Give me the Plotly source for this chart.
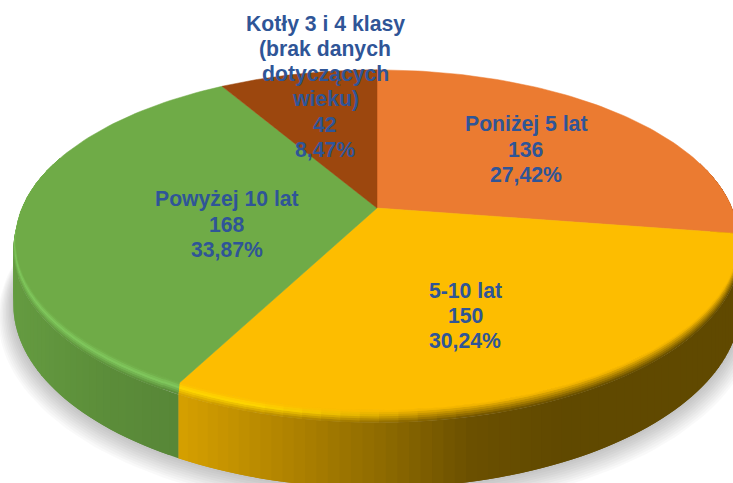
import numpy as np
import plotly.graph_objects as go

categories = [["Poniżej 5 lat"], ["5-10 lat"], ["Powyżej 10 lat"],
              ["Kotły 3 i 4 klasy", "(brak danych", "dotyczących", "wieku)"]]
values = [136, 150, 168, 42]
percent_labels = ["27,42%", "30,24%", "33,87%", "8,47%"]
face_colors = ["#EB7B31", "#FDBD00", "#6FAB47", "#9C470E"]
highlight_colors = ["#EB7B31", "#FFD600", "#80C85D", "#9C470E"]
label_x = [526, 465, 227, 325]
label_top_y = [124, 290, 199, 24]
wall_stops = [
    [(560, "#6a3a14"), (733, "#6a3a14")],
    [(180, "#D6A000"), (260, "#BA8B00"), (377, "#906C00"), (470, "#6B5000"), (560, "#604900"), (733, "#604900")],
    [(12, "#659C41"), (100, "#5C8E3A"), (182, "#578637")],
    [(200, "#6a3a14"), (377, "#6a3a14")],
]

# Perspective of the pie's top plane in picture pixels
CX, HUB_Y, D, A, C = 377.0, 208.0, 355.0, 125.0, -0.188
WALL, BEVEL, BEVEL_GROW = 53.0, 9.0, 0.006


def project(theta, r=1.0, drop=0.0):
    u, v = r * np.sin(theta), -r * np.cos(theta)
    w = 1 + C * v
    return CX + D * u / w, (A * v + HUB_Y) / w + drop / w


def rgb(h):
    return np.array([int(h[i:i + 2], 16) for i in (1, 3, 5)], float)


def mix(a, b, t):
    return a + (b - a) * t


def css(c):
    return "rgb(%d,%d,%d)" % tuple(np.clip(np.round(c), 0, 255))


def wall_color(stops, x):
    xs = [s[0] for s in stops]
    cols = np.array([rgb(s[1]) for s in stops])
    return np.array([np.interp(x, xs, cols[:, k]) for k in range(3)])


def poly(xs, ys, color, opacity=None, edge=0.0):
    xs, ys = np.append(xs, xs[0]), np.append(ys, ys[0])
    tr = go.Scatter(x=xs, y=ys, mode="lines", fill="toself", fillcolor=color,
                    line=dict(color=color, width=edge), hoverinfo="skip", showlegend=False)
    if opacity is not None:
        tr.opacity = opacity
    return tr


fracs = np.array(values, float) / np.sum(values)
edges = np.concatenate([[0], np.cumsum(fracs)]) * 2 * np.pi
fig = go.Figure()

# soft shadow
full = np.linspace(0, 2 * np.pi, 241)
for k in range(1, 11):
    sx, sy = project(full, 1 + BEVEL_GROW + 0.004 * k, WALL + BEVEL + 1.0 * k)
    fig.add_trace(poly(sx, sy, "#000000", 0.022))

# side wall: each strip runs on under its neighbour so that no seams show
for i in range(4):
    n = max(int((edges[i + 1] - edges[i]) / np.radians(1.5)), 2)
    th = np.linspace(edges[i], edges[i + 1], n + 1)
    for m in range(n):
        a, b = th[m], th[min(m + 2, n)]
        if -np.cos((th[m] + th[m + 1]) / 2) < -0.3:
            continue
        x0, y0 = project(a, 1 + BEVEL_GROW, BEVEL)
        x1, y1 = project(b, 1 + BEVEL_GROW, BEVEL)
        x2, y2 = project(b, 1 + BEVEL_GROW, BEVEL + WALL)
        x3, y3 = project(a, 1 + BEVEL_GROW, BEVEL + WALL)
        xm = project((th[m] + th[m + 1]) / 2)[0]
        col = wall_color(wall_stops[i], xm)
        fig.add_trace(poly(np.array([x0, x1, x2, x3]), np.array([y0, y1, y2, y3]), css(col)))

# rounded rim between face and wall, drawn from the outermost band inward
RINGS = 6
for j in range(RINGS, 0, -1):
    t0, t1 = (j - 1) / RINGS, j / RINGS
    tm = (t0 + t1) / 2
    for i in range(4):
        n = max(int((edges[i + 1] - edges[i]) / np.radians(2.5)), 2)
        th = np.linspace(edges[i], edges[i + 1], n + 1)
        for m in range(n):
            a, b = th[m], th[min(m + 2, n)]
            if -np.cos((th[m] + th[m + 1]) / 2) < -0.3:
                continue
            xa, ya = project(a, 1 + BEVEL_GROW * t0 * 0, 0)
            xb, yb = project(b, 1 + BEVEL_GROW * t0 * 0, 0)
            xc, yc = project(b, 1 + BEVEL_GROW * t1, BEVEL * t1)
            xd, yd = project(a, 1 + BEVEL_GROW * t1, BEVEL * t1)
            xm = project((th[m] + th[m + 1]) / 2)[0]
            face = rgb(face_colors[i])
            wall = wall_color(wall_stops[i], xm)
            strength = np.clip((430 - xm) / 170, 0, 1)
            high = mix(mix(face, wall, 0.4), rgb(highlight_colors[i]), strength)
            col = mix(face, high, tm / 0.4) if tm < 0.4 else mix(high, wall, (tm - 0.4) / 0.6)
            fig.add_trace(poly(np.array([xa, xb, xc, xd]), np.array([ya, yb, yc, yd]), css(col)))

# top face
for i in range(4):
    th = np.linspace(edges[i], edges[i + 1], 90)
    ax, ay = project(th)
    hx, hy = project(0.0, 0.0)
    fig.add_trace(poly(np.concatenate([[hx], ax]), np.concatenate([[hy], ay]), face_colors[i], edge=0.5))

# labels, one annotation per line so the line pitch stays tight
LINE_PITCH = 25
for i in range(4):
    lines = categories[i] + [str(values[i]), percent_labels[i]]
    for k, line in enumerate(lines):
        fig.add_annotation(x=label_x[i], y=label_top_y[i] + k * LINE_PITCH, xref="x", yref="y",
                           showarrow=False, align="center", text="<b>%s</b>" % line,
                           font=dict(family="Liberation Sans, Arial, sans-serif", size=21.2, color="#2F5597"))

fig.update_layout(width=733, height=483, margin=dict(l=0, r=0, t=0, b=0),
                  paper_bgcolor="white", plot_bgcolor="white", showlegend=False,
                  xaxis=dict(range=[0, 733], visible=False, fixedrange=True),
                  yaxis=dict(range=[483, 0], visible=False, fixedrange=True))
fig.write_html("out.html", config=dict(displayModeBar=False),
               post_script="document.body.style.margin='0';document.body.style.overflow='hidden';")
